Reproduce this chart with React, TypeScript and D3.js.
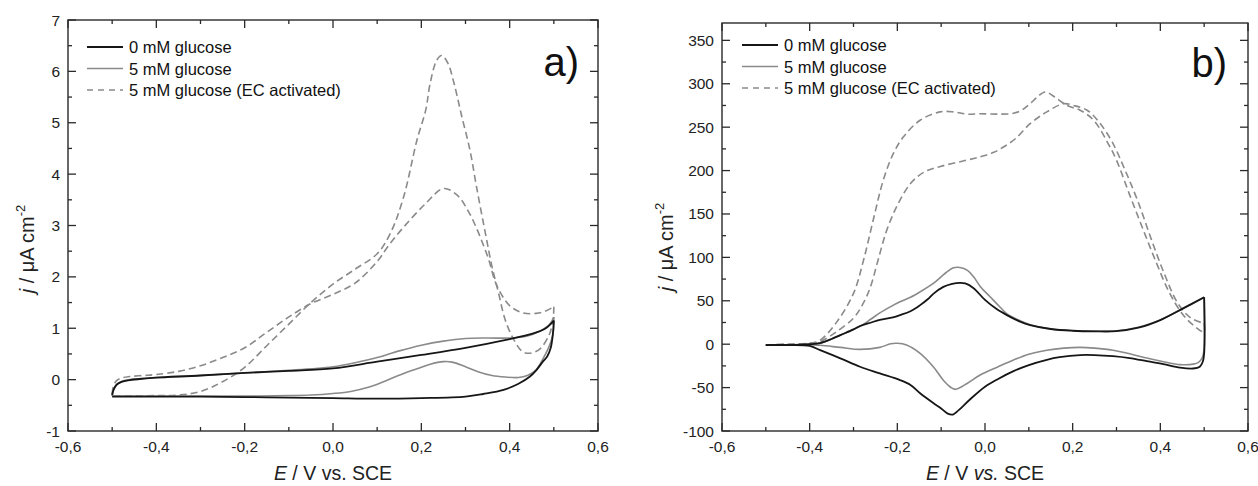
import React from "react";
import * as d3 from "d3";

type P = [number, number];

// ---------- Panel a data (E / V, j / µA cm^-2) ----------
const aBlackFwd: P[] = [[-0.5,-0.3],[-0.497,-0.2],[-0.49,-0.1],[-0.48,-0.05],[-0.46,-0.01],[-0.43,0.02],[-0.4,0.04],[-0.3,0.08],[-0.2,0.13],[-0.1,0.17],[0.0,0.22],[0.1,0.35],[0.2,0.48],[0.3,0.62],[0.4,0.79],[0.45,0.89],[0.48,0.99],[0.5,1.15]];
const aBlackRev: P[] = [[0.5,1.15],[0.498,0.9],[0.493,0.62],[0.485,0.45],[0.476,0.36],[0.46,0.18],[0.446,0.06],[0.42,-0.08],[0.386,-0.2],[0.34,-0.28],[0.3,-0.33],[0.2,-0.36],[0.1,-0.37],[0.0,-0.36],[-0.1,-0.35],[-0.2,-0.34],[-0.3,-0.33],[-0.4,-0.33],[-0.5,-0.33]];
const aGrayFwd: P[] = [[-0.5,-0.32],[-0.497,-0.2],[-0.49,-0.1],[-0.48,-0.04],[-0.46,0.0],[-0.43,0.02],[-0.4,0.04],[-0.3,0.08],[-0.2,0.13],[-0.1,0.18],[-0.05,0.21],[0.0,0.25],[0.05,0.33],[0.1,0.43],[0.15,0.56],[0.2,0.67],[0.25,0.75],[0.3,0.8],[0.35,0.81],[0.4,0.81],[0.44,0.85],[0.47,0.95],[0.49,1.07],[0.5,1.22]];
const aGrayRev: P[] = [[0.5,1.22],[0.499,0.95],[0.495,0.78],[0.487,0.6],[0.475,0.4],[0.46,0.19],[0.44,0.08],[0.42,0.04],[0.39,0.05],[0.36,0.08],[0.33,0.15],[0.3,0.25],[0.27,0.34],[0.25,0.35],[0.22,0.3],[0.19,0.21],[0.16,0.12],[0.12,-0.02],[0.08,-0.15],[0.04,-0.23],[0.0,-0.27],[-0.05,-0.3],[-0.1,-0.31],[-0.2,-0.32],[-0.3,-0.32],[-0.4,-0.32],[-0.5,-0.32]];
const aDashFwd: P[] = [[-0.5,-0.28],[-0.497,-0.12],[-0.49,-0.02],[-0.48,0.03],[-0.46,0.06],[-0.43,0.08],[-0.4,0.1],[-0.35,0.16],[-0.3,0.27],[-0.25,0.43],[-0.2,0.62],[-0.15,0.92],[-0.1,1.22],[-0.05,1.48],[0.0,1.66],[0.05,1.88],[0.1,2.3],[0.125,2.6],[0.16,2.97],[0.21,3.43],[0.25,3.72],[0.28,3.6],[0.31,3.22],[0.35,2.4],[0.37,1.85],[0.4,1.44],[0.43,1.3],[0.46,1.29],[0.48,1.33],[0.5,1.42]];
const aDashRev: P[] = [[0.5,1.42],[0.499,1.22],[0.495,1.02],[0.49,0.88],[0.47,0.61],[0.45,0.52],[0.43,0.54],[0.41,0.77],[0.39,1.16],[0.375,1.68],[0.36,2.2],[0.345,2.85],[0.325,3.75],[0.31,4.47],[0.29,5.18],[0.274,5.77],[0.26,6.16],[0.246,6.31],[0.235,6.22],[0.22,5.77],[0.21,5.25],[0.19,4.66],[0.16,3.56],[0.13,2.85],[0.1,2.45],[0.05,2.15],[0.0,1.86],[-0.05,1.5],[-0.1,1.08],[-0.15,0.66],[-0.2,0.24],[-0.25,-0.04],[-0.3,-0.23],[-0.35,-0.3],[-0.4,-0.31],[-0.5,-0.32]];

// ---------- Panel b data ----------
const bBlackFwd: P[] = [[-0.5,-1],[-0.45,-1],[-0.4,0],[-0.376,1.3],[-0.35,6],[-0.33,10.5],[-0.3,17],[-0.285,21],[-0.26,25],[-0.24,28],[-0.21,31],[-0.194,33.5],[-0.17,38],[-0.148,45],[-0.13,52],[-0.118,58],[-0.095,66],[-0.075,69.5],[-0.057,70.7],[-0.045,70],[-0.026,64.5],[0.0,51],[0.025,41],[0.05,33.5],[0.08,26],[0.103,22],[0.15,17.5],[0.2,15.5],[0.25,14.8],[0.3,15],[0.35,19],[0.4,27.8],[0.453,41.5],[0.5,54]];
const bBlackRev: P[] = [[0.5,54],[0.5,-10],[0.497,-20],[0.49,-26],[0.475,-28],[0.445,-27],[0.407,-23],[0.369,-19.5],[0.33,-16],[0.292,-13.8],[0.25,-12.5],[0.217,-12.5],[0.17,-15],[0.141,-18],[0.1,-24],[0.065,-31],[0.03,-40],[0.0,-49],[-0.035,-64],[-0.06,-76],[-0.073,-81],[-0.085,-80],[-0.1,-74],[-0.118,-67.8],[-0.148,-56.6],[-0.17,-47],[-0.194,-41.3],[-0.24,-33.6],[-0.285,-26],[-0.33,-16.3],[-0.376,-6.8],[-0.4,-2],[-0.45,-1],[-0.5,-1]];
const bGrayFwd: P[] = [[-0.5,-1],[-0.45,-1],[-0.4,0],[-0.376,1.3],[-0.35,6],[-0.33,10.5],[-0.3,17],[-0.28,22],[-0.26,29],[-0.24,36],[-0.216,43],[-0.194,48.8],[-0.17,54],[-0.148,60.3],[-0.118,70],[-0.09,82],[-0.072,88],[-0.057,88.4],[-0.04,85],[-0.026,77.6],[-0.01,66],[0.011,55],[0.03,45],[0.05,35],[0.08,27],[0.103,22.5],[0.15,17.5],[0.2,15.5],[0.25,15],[0.3,15.5],[0.35,19.5],[0.4,28],[0.453,41.5],[0.5,54]];
const bGrayRev: P[] = [[0.5,54],[0.5,-5],[0.496,-15],[0.487,-21],[0.475,-23],[0.445,-23.5],[0.41,-20.5],[0.369,-16],[0.33,-11],[0.292,-6.9],[0.25,-4.5],[0.217,-3.7],[0.18,-4.5],[0.141,-6.9],[0.1,-11.5],[0.065,-18.2],[0.03,-26],[-0.011,-35.5],[-0.04,-45],[-0.068,-52],[-0.08,-49],[-0.095,-41.5],[-0.118,-26],[-0.148,-10.6],[-0.179,-1],[-0.2,1],[-0.215,0.5],[-0.24,-3.7],[-0.285,-6],[-0.33,-3.7],[-0.376,-1.3],[-0.4,-0.5],[-0.45,-1],[-0.5,-1]];
const bDashFwd: P[] = [[-0.5,-1],[-0.45,0],[-0.4,1],[-0.376,3],[-0.34,14],[-0.3,30],[-0.28,45],[-0.262,65],[-0.245,95],[-0.225,130],[-0.2,160],[-0.17,185],[-0.14,198],[-0.1,205],[-0.05,211],[-0.01,216],[0.02,221],[0.045,228],[0.07,237],[0.103,254],[0.141,267.6],[0.179,277],[0.202,275],[0.233,269.5],[0.26,256],[0.29,233],[0.32,200],[0.35,163],[0.38,120],[0.41,80],[0.44,47],[0.47,30],[0.5,24]];
const bDashRev: P[] = [[0.5,24],[0.5,14],[0.475,22],[0.45,35],[0.42,60],[0.39,95],[0.36,133],[0.33,172],[0.3,212],[0.28,232],[0.248,258],[0.217,269.5],[0.187,275],[0.164,283],[0.137,290.6],[0.12,285],[0.103,277],[0.085,270],[0.065,266],[0.03,265],[-0.011,265.5],[-0.04,265],[-0.072,267.6],[-0.103,267.6],[-0.148,258],[-0.186,238.9],[-0.209,219.7],[-0.232,189],[-0.255,143],[-0.277,97],[-0.3,58.5],[-0.338,25.7],[-0.376,4.7],[-0.4,1],[-0.45,0],[-0.5,-1]];

// ---------- Axes / labels ----------
const xMajorTicks = [-0.6, -0.4, -0.2, 0.0, 0.2, 0.4, 0.6];
const xMinorTicks = [-0.5, -0.3, -0.1, 0.1, 0.3, 0.5];
const aYMajor = [-1, 0, 1, 2, 3, 4, 5, 6, 7];
const aYMinor = [-0.5, 0.5, 1.5, 2.5, 3.5, 4.5, 5.5, 6.5];
const bYMajor = [-100, -50, 0, 50, 100, 150, 200, 250, 300, 350];
const bYMinor = [-75, -25, 25, 75, 125, 175, 225, 275, 325];
const legendLabels = ["0 mM glucose", "5 mM glucose", "5 mM glucose (EC activated)"];

const FONT = "'Liberation Sans', Arial, Helvetica, sans-serif";
const BLACK = "#161616";
const GRAY = "#8a8a8a";
const AXIS = "#2a2a2a";

const fmtX = (v: number) => v.toFixed(1).replace(".", ",");

type PanelProps = {
  left: number; right: number; top: number; bottom: number;
  yDomain: [number, number];
  yMajor: number[]; yMinor: number[];
  black: P[][]; gray: P[][]; dash: P[][];
  letter: string; letterX: number; letterY: number;
  legendX: number; legendY: number;
  yTitleX: number; yTitleY: number;
  italicVs: boolean;
};

function Panel(p: PanelProps) {
  const x = d3.scaleLinear().domain([-0.6, 0.6]).range([p.left, p.right]);
  const y = d3.scaleLinear().domain(p.yDomain).range([p.bottom, p.top]);
  const line = d3.line<P>().x(d => x(d[0])).y(d => y(d[1])).curve(d3.curveCatmullRom.alpha(0.5));
  const maj = 8, mnr = 4;
  const cx = (p.left + p.right) / 2;
  return (
    <g>
      {p.dash.map((s, i) => (
        <path key={"d" + i} d={line(s) || ""} fill="none" stroke={GRAY} strokeWidth={1.6} strokeDasharray="7,4" />
      ))}
      {p.gray.map((s, i) => (
        <path key={"g" + i} d={line(s) || ""} fill="none" stroke={GRAY} strokeWidth={1.6} />
      ))}
      {p.black.map((s, i) => (
        <path key={"b" + i} d={line(s) || ""} fill="none" stroke={BLACK} strokeWidth={1.8} />
      ))}
      <rect x={p.left} y={p.top} width={p.right - p.left} height={p.bottom - p.top} fill="none" stroke={AXIS} strokeWidth={1.4} />
      {xMajorTicks.map(v => (
        <g key={"xm" + v}>
          <line x1={x(v)} x2={x(v)} y1={p.bottom} y2={p.bottom - maj} stroke={AXIS} strokeWidth={1.3} />
          <line x1={x(v)} x2={x(v)} y1={p.top} y2={p.top + maj} stroke={AXIS} strokeWidth={1.3} />
          <text x={x(v)} y={p.bottom + 21} textAnchor="middle" fontSize={15.5} fill="#222" fontFamily={FONT}>{fmtX(v)}</text>
        </g>
      ))}
      {xMinorTicks.map(v => (
        <g key={"xn" + v}>
          <line x1={x(v)} x2={x(v)} y1={p.bottom} y2={p.bottom - mnr} stroke={AXIS} strokeWidth={1.3} />
          <line x1={x(v)} x2={x(v)} y1={p.top} y2={p.top + mnr} stroke={AXIS} strokeWidth={1.3} />
        </g>
      ))}
      {p.yMajor.map(v => (
        <g key={"ym" + v}>
          <line x1={p.left} x2={p.left + maj} y1={y(v)} y2={y(v)} stroke={AXIS} strokeWidth={1.3} />
          <line x1={p.right} x2={p.right - maj} y1={y(v)} y2={y(v)} stroke={AXIS} strokeWidth={1.3} />
          <text x={p.left - 8} y={y(v) + 5.5} textAnchor="end" fontSize={15.5} fill="#222" fontFamily={FONT}>{String(v)}</text>
        </g>
      ))}
      {p.yMinor.map(v => (
        <g key={"yn" + v}>
          <line x1={p.left} x2={p.left + mnr} y1={y(v)} y2={y(v)} stroke={AXIS} strokeWidth={1.3} />
          <line x1={p.right} x2={p.right - mnr} y1={y(v)} y2={y(v)} stroke={AXIS} strokeWidth={1.3} />
        </g>
      ))}
      <text x={cx} y={480} textAnchor="middle" fontSize={19.5} fill="#222" fontFamily={FONT}>
        <tspan fontStyle="italic">E</tspan>
        <tspan> / V </tspan>
        <tspan fontStyle={p.italicVs ? "italic" : "normal"}>vs.</tspan>
        <tspan> SCE</tspan>
      </text>
      <text transform={`translate(${p.yTitleX},${p.yTitleY}) rotate(-90)`} textAnchor="middle" fontSize={20} fill="#222" fontFamily={FONT}>
        <tspan fontStyle="italic">j</tspan>
        <tspan> / μA cm</tspan>
        <tspan fontSize={13} dy={-9}>-2</tspan>
      </text>
      <text x={p.letterX} y={p.letterY} textAnchor="end" fontSize={40} fill="#111" fontFamily={FONT}>{p.letter}</text>
      {legendLabels.map((lab, i) => {
        const ly = p.legendY + i * 21.5;
        const stroke = i === 0 ? BLACK : GRAY;
        return (
          <g key={"l" + i}>
            <line x1={p.legendX} x2={p.legendX + 36} y1={ly} y2={ly} stroke={stroke} strokeWidth={i === 0 ? 1.8 : 1.6} strokeDasharray={i === 2 ? "6,5" : undefined} />
            <text x={p.legendX + 42} y={ly + 6} fontSize={16.5} fill="#111" fontFamily={FONT}>{lab}</text>
          </g>
        );
      })}
    </g>
  );
}

export default function App() {
  return (
    <svg width={1258} height={486} style={{ position: "absolute", left: 0, top: 0, background: "#fff" }}>
      <rect x={0} y={0} width={1258} height={486} fill="#fff" />
      <Panel
        left={68} right={598} top={20} bottom={431}
        yDomain={[-1, 7]} yMajor={aYMajor} yMinor={aYMinor}
        black={[aBlackFwd, aBlackRev]} gray={[aGrayFwd, aGrayRev]} dash={[aDashFwd, aDashRev]}
        letter="a)" letterX={579} letterY={76}
        legendX={87} legendY={47}
        yTitleX={34} yTitleY={249}
        italicVs={false}
      />
      <Panel
        left={722} right={1248} top={23} bottom={431}
        yDomain={[-100, 370]} yMajor={bYMajor} yMinor={bYMinor}
        black={[bBlackFwd, bBlackRev]} gray={[bGrayFwd, bGrayRev]} dash={[bDashFwd, bDashRev]}
        letter="b)" letterX={1227} letterY={77}
        legendX={742} legendY={45}
        yTitleX={673} yTitleY={247}
        italicVs={true}
      />
    </svg>
  );
}
